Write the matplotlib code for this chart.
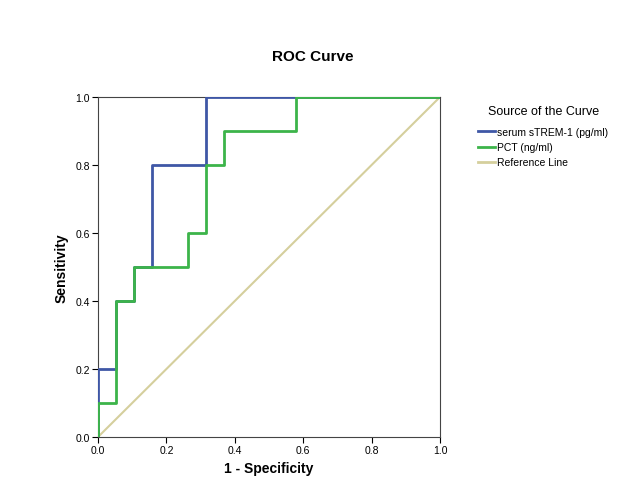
import matplotlib
matplotlib.use("Agg")
import matplotlib.pyplot as plt
from matplotlib.lines import Line2D

plt.rcParams['font.family'] = ['Liberation Sans', 'DejaVu Sans']

# Data (1 - specificity, sensitivity) step points
strem_x = [0, 0, 1/19, 1/19, 2/19, 2/19, 3/19, 3/19, 6/19, 6/19, 1]
strem_y = [0, 0.2, 0.2, 0.4, 0.4, 0.5, 0.5, 0.8, 0.8, 1.0, 1.0]
pct_x = [0, 0, 1/19, 1/19, 2/19, 2/19, 5/19, 5/19, 6/19, 6/19, 7/19, 7/19, 11/19, 11/19, 1]
pct_y = [0, 0.1, 0.1, 0.4, 0.4, 0.5, 0.5, 0.6, 0.6, 0.8, 0.8, 0.9, 0.9, 1.0, 1.0]
ref_x = [0, 1]
ref_y = [0, 1]
ticks = [0.0, 0.2, 0.4, 0.6, 0.8, 1.0]
labels = ["serum sTREM-1 (pg/ml)", "PCT (ng/ml)", "Reference Line"]
colors = ["#3f57a6", "#3cb44a", "#d5cf9d"]

fig = plt.figure(figsize=(6.27, 5.02), dpi=100)
ax = fig.add_axes([98/627, 1-438/502, 342/627, 340/502])

ax.plot(ref_x, ref_y, color=colors[2], lw=1.5, zorder=2)
ax.plot(strem_x, strem_y, color=colors[0], lw=2, zorder=3)
ax.plot(pct_x, pct_y, color=colors[1], lw=2, zorder=4)

ax.set_xlim(0, 1)
ax.set_ylim(0, 1)
ax.set_xticks(ticks)
ax.set_yticks(ticks)
ax.set_xticklabels([f"{t:.1f}" for t in ticks], fontsize=7.5)
ax.set_yticklabels([f"{t:.1f}" for t in ticks], fontsize=7.5)
ax.tick_params(direction='out', length=4, width=0.8, pad=2)
for s in ax.spines.values():
    s.set_color('#444444')
    s.set_linewidth(0.8)
ax.set_xlabel("1 - Specificity", fontsize=10, fontweight='bold', labelpad=4)
ax.set_ylabel("Sensitivity", fontsize=10, fontweight='bold', labelpad=5)
fig.text(313/627, 1-57/502, "ROC Curve", ha='center', va='center', fontsize=11, fontweight='bold')

handles = [Line2D([], [], color=c, lw=2) for c in colors]
leg = fig.legend(handles, labels, title="Source of the Curve", loc='upper left',
                 bbox_to_anchor=(471/627, 1-99/502), frameon=False, fontsize=7.5,
                 title_fontsize=9, handlelength=1.6, handletextpad=0.2,
                 labelspacing=0.5, borderpad=0.2)
leg._legend_box.align = "center"
leg._legend_box.sep = 7

fig.savefig("out.png", dpi=100)
